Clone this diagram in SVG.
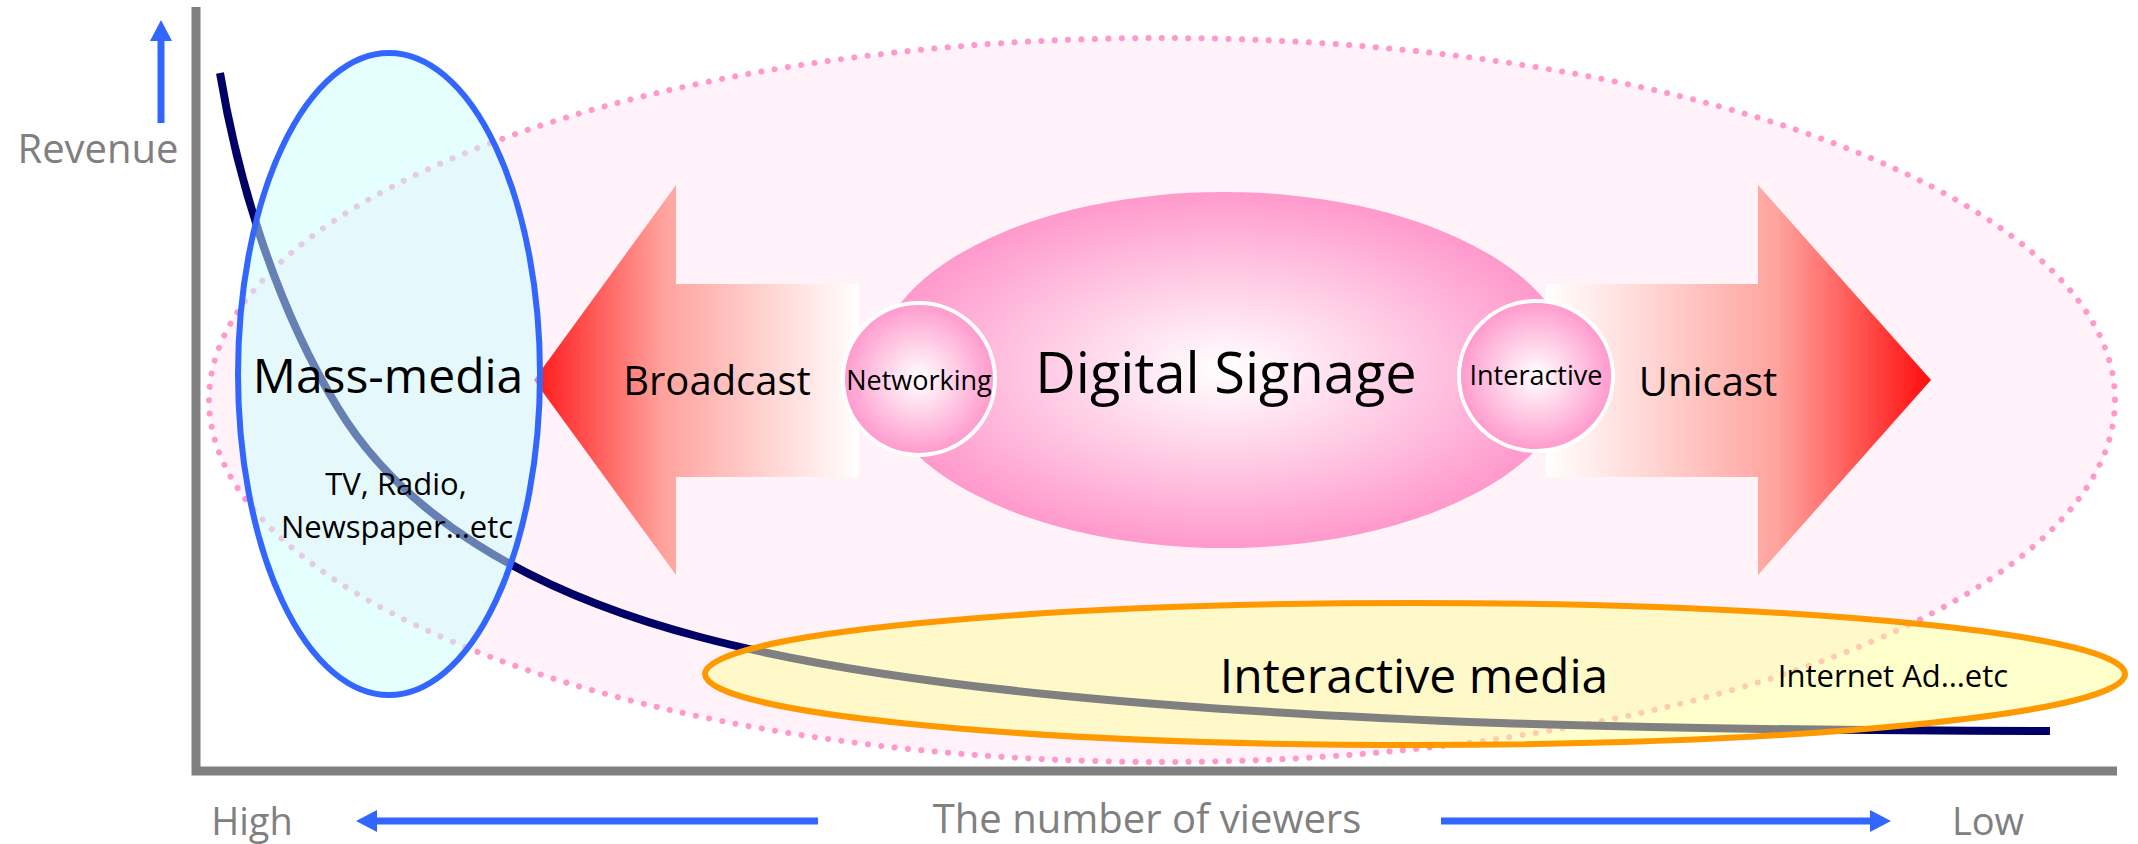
<svg xmlns="http://www.w3.org/2000/svg" width="2138" height="844" viewBox="0 0 2138 844">
<defs>
<style>
.t{font-family:"Open Sans","DejaVu Sans",sans-serif;text-anchor:middle;fill:#000}
.g{fill:#808080}
.blue{stroke:#3366FF;stroke-width:7;fill:none}
.bubble{stroke:#FFFFFF;stroke-width:4}
</style>
<linearGradient id="gLeft" gradientUnits="userSpaceOnUse" x1="534" y1="0" x2="859" y2="0">
<stop offset="0" stop-color="#FF1A1A"/><stop offset="0.4" stop-color="#FFA39E"/><stop offset="1" stop-color="#FFFFFF"/>
</linearGradient>
<linearGradient id="gRight" gradientUnits="userSpaceOnUse" x1="1931" y1="0" x2="1546" y2="0">
<stop offset="0" stop-color="#FF0D0D"/><stop offset="0.4" stop-color="#FFA39E"/><stop offset="1" stop-color="#FFFFFF"/>
</linearGradient>
<radialGradient id="gPink" cx="0.5" cy="0.5" r="0.5">
<stop offset="0" stop-color="#FFFFFF"/><stop offset="0.12" stop-color="#FFF4F9"/><stop offset="1" stop-color="#FF99CC"/>
</radialGradient>
<marker id="ah" markerUnits="userSpaceOnUse" markerWidth="21" markerHeight="22" refX="0" refY="11" orient="auto" overflow="visible">
<path d="M0,0 L21,11 L0,22 z" fill="#3366FF"/>
</marker>
</defs>

<g id="axes">
<path d="M196,7 V771 H2117" fill="none" stroke="#808080" stroke-width="9"/>
<text class="t g" x="98" y="163" font-size="40">Revenue</text>
<text class="t g" x="252" y="835" font-size="38">High</text>
<text class="t g" x="1147" y="833" font-size="40">The number of viewers</text>
<text class="t g" x="1988" y="835" font-size="38">Low</text>
</g>

<g id="digital-signage-scope">
<ellipse cx="1162" cy="400" rx="953" ry="362" fill="#FFF2F9" stroke="#FF99CC" stroke-width="6" stroke-dasharray="0.1 13.3" stroke-linecap="round"/>
</g>

<g id="broadcast">
<path d="M534,380 L676,185 V284 H859 V477 H676 V575 Z" fill="url(#gLeft)"/>
<text class="t" x="717" y="395" font-size="40">Broadcast</text>
</g>

<g id="unicast">
<path d="M1931,380 L1758,185 V284 H1546 V477 H1758 V575 Z" fill="url(#gRight)"/>
<text class="t" x="1708" y="396" font-size="40">Unicast</text>
</g>

<g id="digital-signage">
<ellipse cx="1224" cy="370" rx="349" ry="178" fill="url(#gPink)"/>
<text class="t" x="1226" y="393" font-size="56">Digital Signage</text>
</g>

<g id="networking">
<ellipse class="bubble" cx="919" cy="379" rx="76" ry="76" fill="url(#gPink)"/>
<text class="t" x="919" y="390" font-size="27">Networking</text>
</g>

<g id="interactive">
<ellipse class="bubble" cx="1536" cy="376" rx="77" ry="75" fill="url(#gPink)"/>
<text class="t" x="1536" y="385" font-size="27">Interactive</text>
</g>

<g id="connectors">
<path id="revenue-curve" d="M220,73 C236,170 272,300 338,408 C400,510 520,590 700,637 C900,690 1200,712 1500,723 C1700,729 1900,731 2050,731" fill="none" stroke="#000066" stroke-width="8"/>
<line class="blue" x1="161" y1="123" x2="161" y2="41" marker-end="url(#ah)"/>
<line class="blue" x1="818" y1="821" x2="377" y2="821" marker-end="url(#ah)"/>
<line class="blue" x1="1441" y1="821" x2="1870" y2="821" marker-end="url(#ah)"/>
</g>

<g id="mass-media">
<ellipse cx="389" cy="374" rx="151" ry="321" fill="#CCFFFF" fill-opacity="0.5" stroke="#3366FF" stroke-width="6"/>
<text class="t" x="388" y="393" font-size="48">Mass-media</text>
<text class="t" x="396" y="495" font-size="31">TV, Radio,</text>
<text class="t" x="397" y="538" font-size="31">Newspaper…etc</text>
</g>

<g id="interactive-media">
<ellipse cx="1415" cy="674" rx="710" ry="71" fill="#FFFF99" fill-opacity="0.5" stroke="#FF9900" stroke-width="6"/>
<text class="t" x="1414" y="693" font-size="48">Interactive media</text>
<text class="t" x="1893" y="687" font-size="31">Internet Ad…etc</text>
</g>
</svg>
